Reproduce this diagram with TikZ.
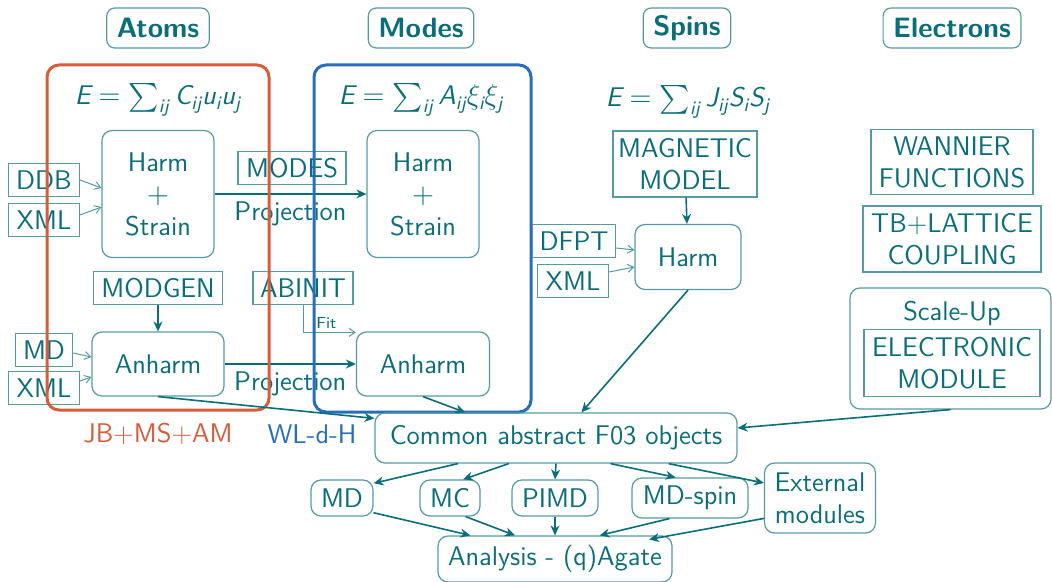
\documentclass[tikz,border=0pt]{standalone}
\usepackage{amsmath}
\usepackage{tikz}
\usetikzlibrary{arrows.meta,calc}
\definecolor{tealc}{RGB}{10,110,122}
\definecolor{tealb}{RGB}{85,155,165}
\definecolor{orangec}{RGB}{214,92,58}
\definecolor{bluec}{RGB}{38,110,188}
\newcommand{\sv}[1]{\text{\sffamily\slshape #1}}

\begin{document}
\begin{tikzpicture}[x=0.5pt, y=-0.5pt,
    every node/.style={font=\sffamily\fontsize{13.5}{16}\selectfont, text=tealc, align=center},
    header/.style={draw=tealb, line width=0.6pt, rounded corners=4pt, font=\sffamily\bfseries\fontsize{14}{16}\selectfont, minimum height=20pt, inner xsep=5pt},
    rbox/.style={draw=tealb, line width=0.6pt, rounded corners=5pt},
    sbox/.style={draw=tealb, line width=0.6pt, inner sep=1.5pt, minimum height=16.5pt},
    mainarr/.style={-{Stealth[length=5pt,width=4.5pt]}, draw=tealc, line width=0.8pt},
    thinarr/.style={-{Straight Barb[length=3pt,width=4pt]}, draw=tealb, line width=0.5pt},
    group/.style={rounded corners=6pt, line width=1.5pt}]
    \useasboundingbox (0,0) rectangle (1052,582);

    % column heads
    \node[header] (atoms) at (158,28) {Atoms};
    \node[header] (modes) at (421,28) {Modes};
    \node[header] (spins) at (687,28) {Spins};
    \node[header] (electrons) at (952,28) {Electrons};

    % energies
    \node (eatoms) at (158,100) {$\sv{E}=\sum_{\sv{ij}} \sv{C}_{\sv{ij}}\sv{u}_{\sv{i}}\sv{u}_{\sv{j}}$};
    \node (emodes) at (421,100) {$\sv{E}=\sum_{\sv{ij}} \sv{A}_{\sv{ij}}{\xi}_{\sv{i}}{\xi}_{\sv{j}}$};
    \node (espins) at (688,102) {$\sv{E}=\sum_{\sv{ij}} \sv{J}_{\sv{ij}}\sv{S}_{\sv{i}}\sv{S}_{\sv{j}}$};

    % atoms + modes
    \node[rbox, minimum width=56pt, minimum height=63.5pt] (harmA) at (158,194) {Harm\\$+$\\Strain};
    \node[rbox, minimum width=56pt, minimum height=63.5pt] (harmM) at (423,194) {Harm\\$+$\\Strain};
    \node[sbox, minimum width=35.5pt] (ddb) at (44,180) {DDB};
    \node[sbox, minimum width=35.5pt] (xmlA) at (44,220) {XML};
    \node[sbox, minimum width=54pt] (modesin) at (292,168) {MODES};
    \node[sbox, minimum width=64.5pt] (modgen) at (158,288) {MODGEN};
    \node[sbox, minimum width=50pt] (abinit) at (303,288) {ABINIT};
    \node[rbox, minimum width=66pt, minimum height=32pt] (anhA) at (158,364) {Anharm};
    \node[rbox, minimum width=66.5pt, minimum height=32pt] (anhM) at (423,364) {Anharm};
    \node[sbox, minimum width=28.5pt] (mdin) at (44,350) {MD};
    \node[sbox, minimum width=35.5pt] (xmlB) at (44,388) {XML};

    \draw[thinarr] (ddb.east) -- ([yshift=3pt]harmA.west);
    \draw[thinarr] ([yshift=2.5pt]xmlA.east) -- ([yshift=-6.5pt]harmA.west);
    \draw[thinarr] ([yshift=-1.5pt]mdin.east) -- ([yshift=3.5pt]anhA.west);
    \draw[thinarr] ([yshift=3.5pt]xmlB.east) -- ([yshift=-6.5pt]anhA.west);
    \draw[mainarr] (harmA) -- node[below, name=proj1] {Projection} (harmM);
    \draw[mainarr] (anhA) -- node[below, name=proj2] {Projection} (anhM);
    \draw[mainarr] (modgen) -- (anhA);
    \draw[thinarr] (abinit.south) |- node[pos=0.72, above, inner sep=1.5pt, name=fitlbl, font=\sffamily\fontsize{8}{9}\selectfont] {Fit} ([yshift=-0.5pt]anhM.north west);

    % groups
    \draw[orangec, group] (47,65) rectangle (269,410);
    \draw[bluec, group] (314,65) rectangle (531,412);
    \node[text=orangec] (jb) at (158,434) {JB+MS+AM};
    \node[text=bluec] (wl) at (312,434) {WL-d-H};

    % spins
    \node[sbox, minimum width=72pt, minimum height=33pt] (magn) at (685,164) {MAGNETIC\\MODEL};
    \node[rbox, minimum width=53pt, minimum height=32.5pt] (harmS) at (688,257) {Harm};
    \node[sbox, minimum width=41.5pt] (dfpt) at (574,241) {DFPT};
    \node[sbox, minimum width=35.5pt] (xmlS) at (573,281) {XML};
    \draw[mainarr] (magn) -- (harmS);
    \draw[thinarr] ([yshift=-3.5pt]dfpt.east) -- ([yshift=3.5pt]harmS.west);
    \draw[thinarr] ([yshift=4.5pt]xmlS.east) -- ([yshift=-5pt]harmS.west);

    % electrons
    \node[sbox, minimum width=81pt, minimum height=32.5pt] (wannier) at (952,162) {WANNIER\\FUNCTIONS};
    \node[sbox, minimum width=89pt, minimum height=33pt] (tblat) at (952,239) {TB+LATTICE\\COUPLING};
    \node[rbox, minimum width=100.5pt, minimum height=60.5pt] (scaleup) at (950.5,348.5) {};
    \node (sclbl) at (952,313) {Scale-Up};
    \node[sbox, minimum width=88pt, minimum height=33.5pt] (elmod) at (952,363) {ELECTRONIC\\MODULE};

    % common layer
    \node[rbox, minimum width=181pt, minimum height=25pt] (common) at (556,438) {Common abstract F03 objects};
    \draw[mainarr] (anhA.south) -- ([yshift=-3pt]common.north west);
    \draw[mainarr] (anhM.south) -- ($(common.north west)!0.25!(common.north east)$);
    \draw[mainarr] (harmS.south) -- ($(common.north west)!0.57!(common.north east)$);
    \draw[mainarr] (scaleup.south) -- ([yshift=5pt]common.east);

    % solvers
    \node[rbox, minimum width=31pt, minimum height=18pt] (md) at (342,498) {MD};
    \node[rbox, minimum width=30pt, minimum height=18pt] (mc) at (450,498) {MC};
    \node[rbox, minimum width=43pt, minimum height=18pt] (pimd) at (555,498) {PIMD};
    \node[rbox, minimum width=58pt, minimum height=20pt] (mdspin) at (690,498) {MD-spin};
    \node[rbox, minimum width=55.5pt, minimum height=35pt] (ext) at (820,498) {External\\modules};
    \node[rbox, minimum width=117pt, minimum height=23pt] (agate) at (555,559) {Analysis - (q)Agate};

    \draw[mainarr] ($(common.south west)!0.23!(common.south east)$) -- (md.25);
    \draw[mainarr] ($(common.south west)!0.37!(common.south east)$) -- (mc.55);
    \draw[mainarr] (common.south) -- (pimd.north);
    \draw[mainarr] ($(common.south west)!0.65!(common.south east)$) -- (mdspin.125);
    \draw[mainarr] ($(common.south west)!0.81!(common.south east)$) -- (ext.165);
    \draw[mainarr] (md.-25) -- ($(agate.north west)!0.14!(agate.north east)$);
    \draw[mainarr] (mc.-50) -- ($(agate.north west)!0.33!(agate.north east)$);
    \draw[mainarr] (pimd.south) -- (agate.north);
    \draw[mainarr] (mdspin.-135) -- ($(agate.north west)!0.69!(agate.north east)$);
    \draw[mainarr] (ext.-160) -- ([yshift=-2pt]$(agate.north west)!0.9!(agate.north east)$);
\end{tikzpicture}
\end{document}
